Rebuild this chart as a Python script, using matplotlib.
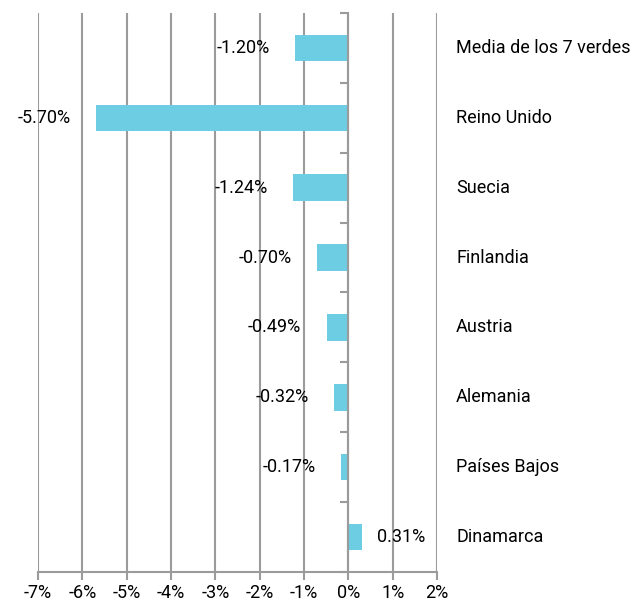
import matplotlib.pyplot as plt
import numpy as np

plt.rcParams['font.family'] = ['Roboto', 'DejaVu Sans']

paises = ['Media de los 7 verdes', 'Reino Unido', 'Suecia', 'Finlandia',
          'Austria', 'Alemania', 'Países Bajos', 'Dinamarca']
valores = [-1.20, -5.70, -1.24, -0.70, -0.49, -0.32, -0.17, 0.31]
xticks = [-7, -6, -5, -4, -3, -2, -1, 0, 1, 2]

gris = '#9b9b9b'
azul = '#6dcde2'

fig = plt.figure(figsize=(6.38, 6.07), dpi=100)
ax = fig.add_axes([0.0596, 0.0577, 0.6254, 0.9209])

y = np.arange(len(paises))
ax.barh(y, valores, height=0.38, color=azul, zorder=3)
ax.set_ylim(len(paises) - 0.5, -0.5)
ax.set_xlim(-7, 2)

ax.set_xticks(xticks)
ax.set_xticklabels(['%d%%' % t for t in xticks], fontsize=13)
ax.xaxis.grid(True, color=gris, lw=1.5, zorder=0)
ax.tick_params(axis='x', length=6, width=1.5, color=gris, pad=3)

ax.set_yticks(np.arange(len(paises) + 1) - 0.5)
ax.set_yticklabels([])
ax.tick_params(axis='y', length=6, width=1.5, color=gris)

for s in ['top', 'right']:
    ax.spines[s].set_visible(False)
ax.spines['left'].set_position(('data', 0))
ax.spines['left'].set_color(gris)
ax.spines['left'].set_linewidth(1.5)
ax.spines['left'].set_zorder(4)
ax.spines['bottom'].set_color(gris)
ax.spines['bottom'].set_linewidth(1.5)

for i, (p, v) in enumerate(zip(paises, valores)):
    if v < 0:
        ax.text(v - 0.57, i, '%.2f%%' % v, ha='right', va='center', fontsize=13, zorder=5)
    else:
        ax.text(v + 0.33, i, '%.2f%%' % v, ha='left', va='center', fontsize=13, zorder=5)
    ax.text(2.43, i, p, ha='left', va='center', fontsize=13, clip_on=False)

plt.savefig('out.png', dpi=100)
